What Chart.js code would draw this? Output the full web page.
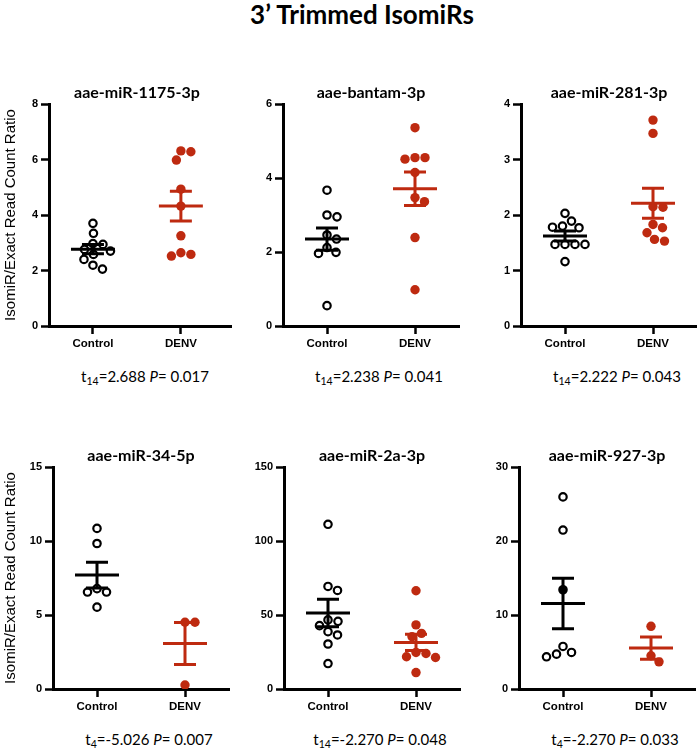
<!DOCTYPE html>
<html>
<head>
<meta charset="utf-8">
<script src="https://cdn.jsdelivr.net/npm/chart.js@4.4.1/dist/chart.umd.min.js"></script>
<style>
  body { margin: 0; background: #fff; }
  #page { position: relative; width: 697px; height: 756px; overflow: hidden; }
  #page canvas { position: absolute; }
  .lbl { position: absolute; white-space: nowrap; transform: translate(-50%, -50%); color: #000; }
  .main { font: bold 26px Lato, "Open Sans", sans-serif; }
  .ttl { font: bold 16px Lato, "Open Sans", sans-serif; }
  .stat { font: 15px Lato, "Open Sans", sans-serif; }
  .stat sub { font-size: 10.5px; vertical-align: -3px; line-height: 0; }
</style>
</head>
<body>
<div id="page">
  <div class="lbl main" style="left:362px; top:14px;">3’ Trimmed IsomiRs</div>
</div>
<script>
const titles = ["aae-miR-1175-3p", "aae-bantam-3p", "aae-miR-281-3p", "aae-miR-34-5p", "aae-miR-2a-3p", "aae-miR-927-3p"];
const groups = ["Control", "DENV"];
const yMaxes = [8, 6, 4, 15, 150, 30];
const ySteps = [2, 2, 1, 5, 50, 10];

const controlValues = [
  [3.70, 3.34, 2.97, 2.94, 2.76, 2.70, 2.58, 2.40, 2.19, 2.05],
  [3.67, 3.00, 2.95, 2.46, 2.35, 2.12, 1.99, 1.96, 0.55],
  [2.03, 1.89, 1.80, 1.78, 1.77, 1.47, 1.47, 1.47, 1.47, 1.16],
  [10.85, 9.83, 6.78, 6.55, 6.55, 5.53],
  [111.3, 69.3, 66.6, 46.7, 45.7, 42.8, 38.7, 36.5, 30.4, 17.2],
  [25.96, 21.48, 13.41, 5.75, 4.94, 4.71, 4.35]
];
const denvValues = [
  [6.31, 6.28, 5.98, 4.93, 4.32, 3.25, 2.64, 2.58, 2.52],
  [5.36, 4.55, 4.55, 4.51, 4.15, 3.47, 3.36, 2.39, 0.98],
  [3.71, 3.47, 2.15, 2.14, 1.83, 1.77, 1.68, 1.56, 1.53],
  [4.51, 4.51, 0.27],
  [66.4, 43.3, 37.6, 35.4, 24.7, 24.0, 21.8, 21.3, 11.1],
  [8.47, 4.49, 3.67]
];
// mean +/- SEM
const controlMean = [2.77, 2.35, 1.62, 7.70, 51.4, 11.55];
const controlSem = [0.17, 0.30, 0.09, 0.87, 9.3, 3.4];
const denvMean = [4.32, 3.71, 2.21, 3.08, 31.5, 5.53];
const denvSem = [0.54, 0.45, 0.27, 1.42, 5.5, 1.5];
// the one control point drawn filled (miR-927)
const solidControlIdx = [-1, -1, -1, -1, -1, 2];

const tDf = [14, 14, 14, 4, 14, 4];
const tStat = ["2.688", "2.238", "2.222", "-5.026", "-2.270", "-2.270"];
const pVal = ["0.017", "0.041", "0.043", "0.007", "0.048", "0.033"];

const RED = "#BE2A10";
const TICK_FONT = { family: "'Liberation Sans', Arial, sans-serif", size: 11, weight: "bold" };

// panel geometry
const areaLeft = [49, 283, 521, 53, 284, 519];
const areaTop = [104, 104, 104, 467, 467, 467];
const xMaxes = [1.57, 1.5, 1.5, 1.5, 1.5, 1.5];
const PX_PER_CAT = 88;
const AREA_H = 222;

const semBars = {
  id: "semBars",
  afterDatasetsDraw(chart, args, opts) {
    const { ctx, scales: { x, y } } = chart;
    ctx.save();
    ctx.lineWidth = 3;
    ctx.lineCap = "butt";
    opts.bars.forEach(b => {
      const xc = x.getPixelForValue(b.pos);
      const hw = x.getPixelForValue(b.pos + 0.25) - xc;
      const cw = x.getPixelForValue(b.pos + 0.125) - xc;
      const ym = y.getPixelForValue(b.mean);
      const yt = y.getPixelForValue(b.mean + b.sem);
      const yb = y.getPixelForValue(b.mean - b.sem);
      ctx.strokeStyle = b.color;
      ctx.beginPath();
      ctx.moveTo(xc - hw, ym); ctx.lineTo(xc + hw, ym);
      ctx.moveTo(xc - cw, yt); ctx.lineTo(xc + cw, yt);
      ctx.moveTo(xc - cw, yb); ctx.lineTo(xc + cw, yb);
      ctx.moveTo(xc, yt); ctx.lineTo(xc, yb);
      ctx.stroke();
    });
    ctx.restore();
  }
};

// simple beeswarm: spread points sideways so circles don't overlap
function swarmOffsets(vals, yScale, minDist) {
  const placed = [];
  return vals.map(v => {
    const py = yScale.getPixelForValue(v);
    let off = 0;
    for (let k = 0; k < 200; k++) {
      const cand = (k % 2 ? 1 : -1) * Math.ceil(k / 2) * 0.5;
      const ok = placed.every(p => (p.x - cand) ** 2 + (p.y - py) ** 2 >= minDist * minDist);
      if (ok) { off = cand; break; }
    }
    placed.push({ x: off, y: py });
    return off;
  });
}

const page = document.getElementById("page");

titles.forEach((title, i) => {
  const leftPanel = i % 3 === 0;
  const yw = leftPanel ? areaLeft[i] : 42;
  const padTop = 12, padRight = 8, xh = 30;
  const areaW = (xMaxes[i] + 0.5) * PX_PER_CAT;

  const canvas = document.createElement("canvas");
  canvas.width = yw + areaW + padRight;
  canvas.height = padTop + AREA_H + xh;
  canvas.style.left = (areaLeft[i] - yw) + "px";
  canvas.style.top = (areaTop[i] - padTop) + "px";
  page.appendChild(canvas);

  const ctrlColors = controlValues[i].map((v, j) => j === solidControlIdx[i] ? "#000" : "#fff");

  const chart = new Chart(canvas, {
    type: "scatter",
    data: {
      datasets: [
        {
          data: controlValues[i].map(v => ({ x: 0, y: v })),
          pointRadius: 3.7, pointBorderWidth: 2.2,
          pointBorderColor: "#000", pointBackgroundColor: ctrlColors,
          pointHoverRadius: 3.7
        },
        {
          data: denvValues[i].map(v => ({ x: 1, y: v })),
          pointRadius: 4.7, pointBorderWidth: 0,
          pointBackgroundColor: RED, pointHoverRadius: 4.7
        }
      ]
    },
    options: {
      responsive: false,
      animation: false,
      layout: { padding: { top: padTop, right: padRight, left: 0, bottom: 0 } },
      plugins: {
        legend: { display: false },
        tooltip: { enabled: false },
        semBars: {
          bars: [
            { pos: 0, mean: controlMean[i], sem: controlSem[i], color: "#000" },
            { pos: 1, mean: denvMean[i], sem: denvSem[i], color: RED }
          ]
        }
      },
      scales: {
        x: {
          type: "linear", min: -0.5, max: xMaxes[i],
          afterBuildTicks: s => { s.ticks = [{ value: 0 }, { value: 1 }]; },
          afterFit: s => { s.height = xh; },
          ticks: {
            callback: v => groups[v] || "",
            font: { family: TICK_FONT.family, size: 11.5, weight: "bold" },
            color: "#000", padding: 3, maxRotation: 0
          },
          grid: { drawOnChartArea: false, drawTicks: true, tickLength: 8, tickWidth: 2.5, tickColor: "#000", color: "#000" },
          border: { display: true, width: 3, color: "#000" }
        },
        y: {
          min: 0, max: yMaxes[i],
          afterFit: s => { s.width = yw; },
          ticks: { stepSize: ySteps[i], font: TICK_FONT, color: "#000", padding: 3 },
          grid: { drawOnChartArea: false, drawTicks: true, tickLength: 8, tickWidth: 2.5, tickColor: "#000", color: "#000" },
          border: { display: true, width: 3, color: "#000" },
          title: {
            display: leftPanel,
            text: "IsomiR/Exact Read Count Ratio",
            font: { family: "'Liberation Sans', Arial, sans-serif", size: 15 },
            color: "#000",
            padding: { top: 2, bottom: 0 }
          }
        }
      }
    },
    plugins: [semBars]
  });

  // spread the points once the scales exist
  const minDist = 10;
  [controlValues[i], denvValues[i]].forEach((vals, d) => {
    const offs = swarmOffsets(vals, chart.scales.y, minDist);
    chart.data.datasets[d].data = vals.map((v, j) => ({ x: d + offs[j] / PX_PER_CAT, y: v }));
  });
  chart.update("none");

  const cx = areaLeft[i] + 1.0 * PX_PER_CAT;
  const rowTop = areaTop[i] - 104;
  const t = document.createElement("div");
  t.className = "lbl ttl";
  t.style.left = cx + "px";
  t.style.top = (rowTop + 91) + "px";
  t.textContent = title;
  page.appendChild(t);

  const st = document.createElement("div");
  st.className = "lbl stat";
  st.style.left = (cx + 8) + "px";
  st.style.top = (rowTop + 376) + "px";
  st.innerHTML = "t<sub>" + tDf[i] + "</sub>=" + tStat[i] + " <i>P</i>= " + pVal[i];
  page.appendChild(st);
});
</script>
</body>
</html>
